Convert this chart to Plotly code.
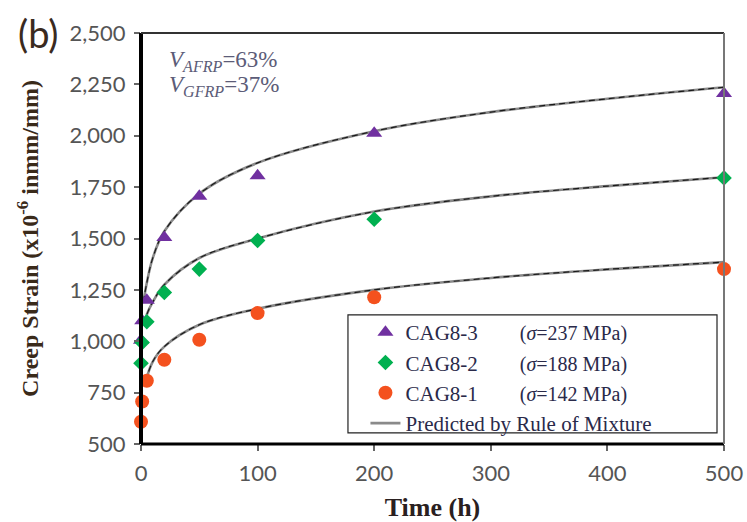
import plotly.graph_objects as go

# Measured data (time in h, creep strain x10^-6)
time_pts = [0, 1, 5, 20, 50, 100, 200, 500]
cag8_3 = [1005, 1100, 1200, 1505, 1705, 1805, 2012, 2205]
cag8_2 = [893, 994, 1095, 1237, 1351, 1490, 1594, 1795]
cag8_1 = [608, 707, 808, 910, 1007, 1137, 1214, 1351]

# Predicted (rule of mixture) curves
pred_t_3 = [2, 5, 10, 20, 50, 100, 200, 300, 400, 500]
pred_3 = [1190, 1285, 1403, 1535, 1718, 1868, 2022, 2115, 2180, 2236]
pred_t_2 = [3, 5, 10, 20, 50, 100, 200, 300, 400, 500]
pred_2 = [1085, 1130, 1190, 1275, 1405, 1500, 1631, 1705, 1755, 1798]
pred_t_1 = [4, 10, 20, 50, 100, 200, 300, 400, 500]
pred_1 = [805, 900, 974, 1080, 1158, 1250, 1308, 1350, 1385]

GAP = "&nbsp;" * 8
legend_names = [
    "CAG8-3" + GAP + "<span style='font-size:20px'>(<i>σ</i>=237 MPa)</span>",
    "CAG8-2" + GAP + "<span style='font-size:20px'>(<i>σ</i>=188 MPa)</span>",
    "CAG8-1" + GAP + "<span style='font-size:20px'>(<i>σ</i>=142 MPa)</span>",
    "Predicted by Rule of Mixture",
]

fig = go.Figure()

curves = [(pred_t_3, pred_3), (pred_t_2, pred_2), (pred_t_1, pred_1)]
for i, (tx, ty) in enumerate(curves):
    fig.add_trace(go.Scatter(
        x=tx, y=ty, mode="lines", line=dict(color="#8a8a8a", width=2.6, shape="spline"),
        name=legend_names[3], showlegend=(i == 0), legendrank=4, hoverinfo="skip"))
    fig.add_trace(go.Scatter(
        x=tx, y=ty, mode="lines", line=dict(color="#1a1a1a", width=1.2, dash="6px,4px", shape="spline"),
        showlegend=False, hoverinfo="skip"))

series = [
    (cag8_3, legend_names[0], "#7030A0", "triangle-up", 14, 1),
    (cag8_2, legend_names[1], "#00B050", "diamond", 12, 2),
    (cag8_1, legend_names[2], "#F4511E", "circle", 14, 3),
]
for vals, name, col, sym, sz, rank in series:
    fig.add_trace(go.Scatter(
        x=time_pts, y=vals, mode="markers", name=name, legendrank=rank,
        marker=dict(color=col, symbol=sym, size=sz, line=dict(width=0)),
        cliponaxis=False))

fig.update_layout(
    width=747, height=522,
    margin=dict(l=141, r=23, t=33, b=78),
    paper_bgcolor="white", plot_bgcolor="white",
    showlegend=True,
    legend=dict(
        x=0.385, y=0.321, xanchor="left", yanchor="top",
        bgcolor="rgba(0,0,0,0)", borderwidth=0,
        font=dict(family="Liberation Serif", size=21, color="#2a2a4a"),
        itemwidth=30, tracegroupgap=0,
    ),
    xaxis=dict(
        range=[0, 500], dtick=100, tick0=0, automargin=False,
        showgrid=False, zeroline=False, showline=False,
        ticks="outside", ticklen=6, tickwidth=1.5, tickcolor="#666",
        ticklabelstandoff=4,
        tickfont=dict(family="Lato", size=22, color="#555"),
        title=dict(text="<b>Time (h)</b>", standoff=14,
                   font=dict(family="Liberation Serif", size=26, color="#2a2020")),
    ),
    yaxis=dict(
        range=[500, 2500], dtick=250, tick0=500, tickformat=",", automargin=False,
        showgrid=False, zeroline=False, showline=False,
        ticks="outside", ticklen=6, tickwidth=1.5, tickcolor="#666",
        ticklabelstandoff=4,
        tickfont=dict(family="Lato", size=22, color="#555"),
        title=dict(text="<b>Creep Strain (x10<sup>-6</sup> inmm/mm)</b>", standoff=24,
                   font=dict(family="Liberation Serif", size=24, color="#3a2a1a")),
    ),
    shapes=[
        dict(type="rect", xref="paper", yref="paper", x0=0.355, x1=0.988, y0=0.027, y1=0.314,
             fillcolor="white", line=dict(color="#222", width=1.2), layer="above"),
        dict(type="line", xref="paper", yref="paper", x0=0, x1=0, y0=0, y1=1,
             line=dict(color="black", width=4)),
        dict(type="line", xref="paper", yref="paper", x0=0, x1=1, y0=0, y1=0,
             line=dict(color="black", width=3)),
        dict(type="line", xref="paper", yref="paper", x0=0, x1=1, y0=1, y1=1,
             line=dict(color="#333", width=2)),
        dict(type="line", xref="paper", yref="paper", x0=1, x1=1, y0=0, y1=1,
             line=dict(color="#777", width=2)),
    ],
    annotations=[
        dict(text="(b)", xref="paper", yref="paper", x=-0.177, y=1.0,
             xanchor="center", yanchor="middle", showarrow=False,
             font=dict(family="Lato", size=38, color="#3a2a20")),
        dict(text="<i>V</i><sub><i>AFRP</i></sub>=63%",
             xref="paper", yref="paper", x=0.044, y=0.931, xanchor="left", yanchor="middle",
             align="left", showarrow=False,
             font=dict(family="Liberation Serif", size=23, color="#5c5c78")),
        dict(text="<i>V</i><sub><i>GFRP</i></sub>=37%",
             xref="paper", yref="paper", x=0.044, y=0.871, xanchor="left", yanchor="middle",
             align="left", showarrow=False,
             font=dict(family="Liberation Serif", size=23, color="#5c5c78")),
    ],
)

fig.write_html("out.html", config={"displayModeBar": False},
               post_script="document.body.style.margin='0';")
